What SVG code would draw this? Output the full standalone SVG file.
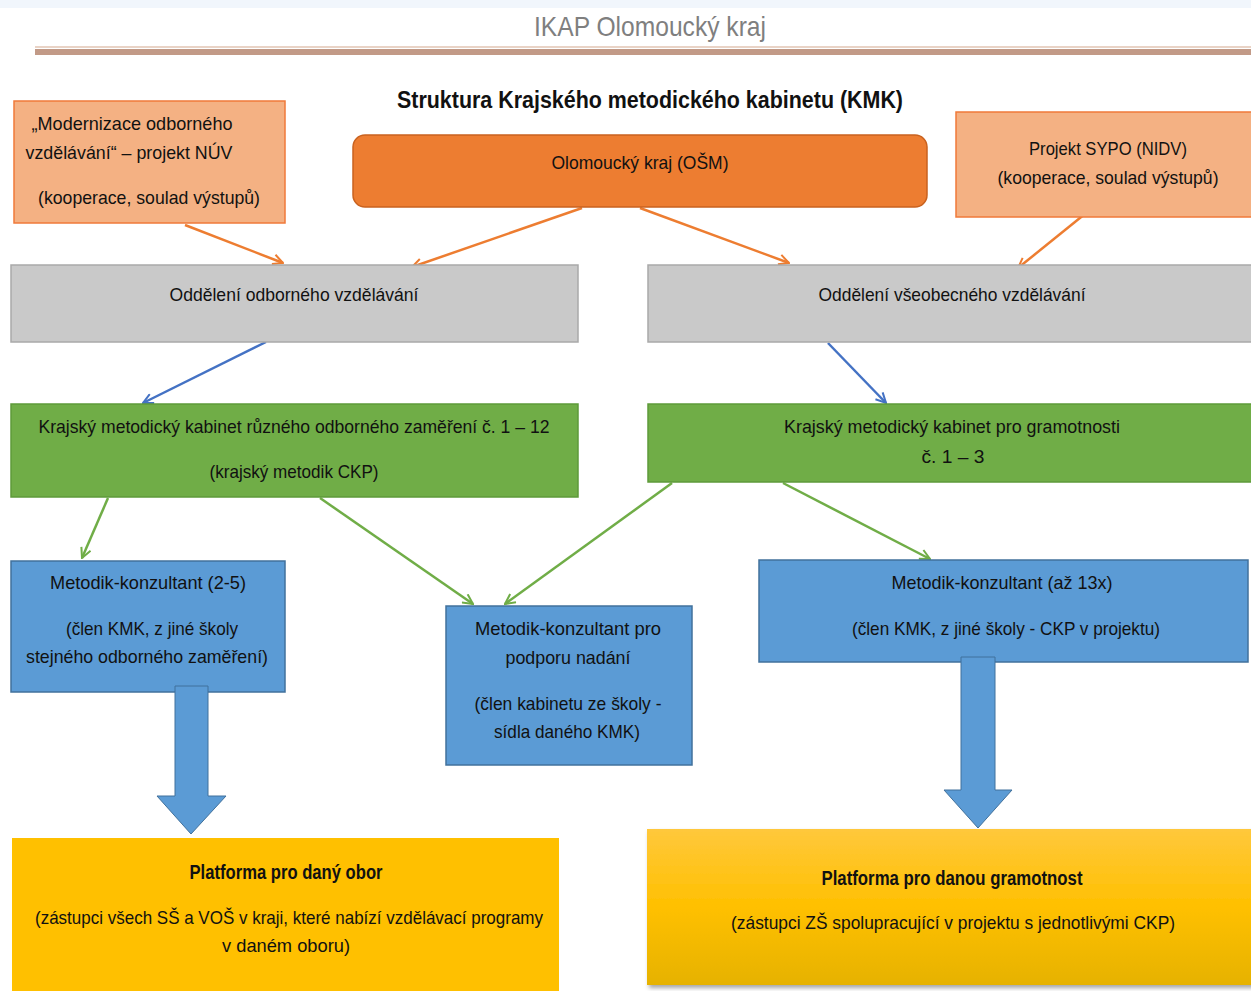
<svg xmlns="http://www.w3.org/2000/svg" width="1251" height="991" viewBox="0 0 1251 991">
<defs>
<style>
text{font-family:"Liberation Sans",Arial,sans-serif;font-size:19px;fill:#111;text-anchor:middle}
.hdr{font-size:28px;fill:#7f7f7f}
.ttl{font-size:23px;font-weight:bold}
.b{font-weight:bold;font-size:20px}
.peach{fill:#f4b183;stroke:#f07a3a;stroke-width:1.5}
.gray{fill:#c9c9c9;stroke:#a9a9a9;stroke-width:1.5}
.green{fill:#70ad47;stroke:#5e9a3a;stroke-width:1.5}
.blue{fill:#5b9bd5;stroke:#41719c;stroke-width:1.5}
.orn{stroke:#ed7d31;stroke-width:2.5;fill:none}
.bln{stroke:#4472c4;stroke-width:2.5;fill:none}
.grn{stroke:#70ad47;stroke-width:2.5;fill:none}
</style>
<marker id="ao" viewBox="0 0 12 12" refX="11" refY="6" markerWidth="12" markerHeight="12" markerUnits="userSpaceOnUse" orient="auto"><path d="M1,1 L11,6 L1,11" fill="none" stroke="#ed7d31" stroke-width="2"/></marker>
<marker id="ab" viewBox="0 0 12 12" refX="11" refY="6" markerWidth="12" markerHeight="12" markerUnits="userSpaceOnUse" orient="auto"><path d="M1,1 L11,6 L1,11" fill="none" stroke="#4472c4" stroke-width="2"/></marker>
<marker id="ag" viewBox="0 0 12 12" refX="11" refY="6" markerWidth="12" markerHeight="12" markerUnits="userSpaceOnUse" orient="auto"><path d="M1,1 L11,6 L1,11" fill="none" stroke="#70ad47" stroke-width="2"/></marker>
<linearGradient id="yg" x1="0" y1="0" x2="0" y2="1"><stop offset="0" stop-color="#ffc83c"/><stop offset="0.5" stop-color="#ffc000"/><stop offset="1" stop-color="#e6b200"/></linearGradient>
<filter id="sh" x="-5%" y="-5%" width="110%" height="115%"><feDropShadow dx="2" dy="3" stdDeviation="2" flood-color="#000" flood-opacity="0.35"/></filter>
</defs>
<rect x="0" y="0" width="1251" height="991" fill="#ffffff"/>
<rect x="0" y="0" width="1251" height="8" fill="#f1f6fc"/>
<g id="header">
<text class="hdr" x="650" y="36" textLength="232" lengthAdjust="spacingAndGlyphs">IKAP Olomoucký kraj</text>
<rect x="35" y="46" width="1216" height="2" fill="#e9d3c6"/>
<rect x="35" y="49" width="1216" height="6" fill="#c29a87"/>
<text class="ttl" x="650" y="108" textLength="506" lengthAdjust="spacingAndGlyphs">Struktura Krajského metodického kabinetu (KMK)</text>
</g>
<g id="connectors">
<line class="orn" x1="185" y1="225" x2="283" y2="263" marker-end="url(#ao)"/>
<line class="orn" x1="582" y1="208" x2="412" y2="267" marker-end="url(#ao)"/>
<line class="orn" x1="640" y1="208" x2="789" y2="263" marker-end="url(#ao)"/>
<line class="orn" x1="1096" y1="205" x2="1018" y2="268" marker-end="url(#ao)"/>
<line class="bln" x1="266" y1="342" x2="143" y2="403" marker-end="url(#ab)"/>
<line class="bln" x1="828" y1="343" x2="886" y2="403" marker-end="url(#ab)"/>
<line class="grn" x1="108" y1="498" x2="82" y2="558" marker-end="url(#ag)"/>
<line class="grn" x1="320" y1="498" x2="473" y2="604" marker-end="url(#ag)"/>
<line class="grn" x1="672" y1="483" x2="505" y2="604" marker-end="url(#ag)"/>
<line class="grn" x1="783" y1="483" x2="930" y2="559" marker-end="url(#ag)"/>
</g>
<g id="nuv">
<rect class="peach" x="14" y="101" width="271" height="122"/>
<text x="132" y="130" textLength="201" lengthAdjust="spacingAndGlyphs">„Modernizace odborného</text>
<text x="129" y="159" textLength="207" lengthAdjust="spacingAndGlyphs">vzdělávání“ – projekt NÚV</text>
<text x="149" y="204" textLength="222" lengthAdjust="spacingAndGlyphs">(kooperace, soulad výstupů)</text>
</g>
<g id="kraj">
<rect x="353" y="135" width="574" height="72" rx="12" fill="#ed7d31" stroke="#c9621f" stroke-width="1.5"/>
<text x="640" y="169" textLength="177" lengthAdjust="spacingAndGlyphs">Olomoucký kraj (OŠM)</text>
</g>
<g id="sypo">
<rect class="peach" x="956" y="112" width="297" height="105"/>
<text x="1108" y="155" textLength="158" lengthAdjust="spacingAndGlyphs">Projekt SYPO (NIDV)</text>
<text x="1108" y="184" textLength="221" lengthAdjust="spacingAndGlyphs">(kooperace, soulad výstupů)</text>
</g>
<g id="odd-odborne">
<rect class="gray" x="11" y="265" width="567" height="77"/>
<text x="294" y="301" textLength="249" lengthAdjust="spacingAndGlyphs">Oddělení odborného vzdělávání</text>
</g>
<g id="odd-vseobecne">
<rect class="gray" x="648" y="265" width="605" height="77"/>
<text x="952" y="301" textLength="267" lengthAdjust="spacingAndGlyphs">Oddělení všeobecného vzdělávání</text>
</g>
<g id="kmk-odborne">
<rect class="green" x="11" y="404" width="567" height="93"/>
<text x="294" y="433" textLength="511" lengthAdjust="spacingAndGlyphs">Krajský metodický kabinet různého odborného zaměření č. 1 – 12</text>
<text x="294" y="478" textLength="169" lengthAdjust="spacingAndGlyphs">(krajský metodik CKP)</text>
</g>
<g id="kmk-gramotnosti">
<rect class="green" x="648" y="404" width="605" height="78"/>
<text x="952" y="433" textLength="336" lengthAdjust="spacingAndGlyphs">Krajský metodický kabinet pro gramotnosti</text>
<text x="953" y="463" textLength="63" lengthAdjust="spacingAndGlyphs">č. 1 – 3</text>
</g>
<g id="mk-2-5">
<rect class="blue" x="11" y="561" width="274" height="131"/>
<text x="148" y="589" textLength="196" lengthAdjust="spacingAndGlyphs">Metodik-konzultant (2-5)</text>
<text x="152" y="635" textLength="172" lengthAdjust="spacingAndGlyphs">(člen KMK, z jiné školy</text>
<text x="147" y="663" textLength="242" lengthAdjust="spacingAndGlyphs">stejného odborného zaměření)</text>
</g>
<g id="mk-nadani">
<rect class="blue" x="446" y="606" width="246" height="159"/>
<text x="568" y="635" textLength="186" lengthAdjust="spacingAndGlyphs">Metodik-konzultant pro</text>
<text x="568" y="664" textLength="125" lengthAdjust="spacingAndGlyphs">podporu nadání</text>
<text x="568" y="710" textLength="187" lengthAdjust="spacingAndGlyphs">(člen kabinetu ze školy -</text>
<text x="567" y="738" textLength="146" lengthAdjust="spacingAndGlyphs">sídla daného KMK)</text>
</g>
<g id="mk-13x">
<rect class="blue" x="759" y="560" width="489" height="102"/>
<text x="1002" y="589" textLength="221" lengthAdjust="spacingAndGlyphs">Metodik-konzultant (až 13x)</text>
<text x="1006" y="635" textLength="308" lengthAdjust="spacingAndGlyphs">(člen KMK, z jiné školy - CKP v projektu)</text>
</g>
<g id="big-arrow-left">
<path d="M175,686 H208 V796 H226 L191,834 L157,796 H175 Z" fill="#5b9bd5" stroke="#41719c" stroke-width="1"/>
</g>
<g id="big-arrow-right">
<path d="M961,657 H995 V790 H1012 L978,828 L944,790 H961 Z" fill="#5b9bd5" stroke="#41719c" stroke-width="1"/>
</g>
<g id="platforma-obor">
<rect x="12" y="838" width="547" height="160" fill="#ffc000"/>
<text class="b" x="286" y="879" textLength="193" lengthAdjust="spacingAndGlyphs">Platforma pro daný obor</text>
<text x="289" y="924" textLength="508" lengthAdjust="spacingAndGlyphs">(zástupci všech SŠ a VOŠ v kraji, které nabízí vzdělávací programy</text>
<text x="286" y="952" textLength="128" lengthAdjust="spacingAndGlyphs">v daném oboru)</text>
</g>
<g id="platforma-gramotnost">
<rect x="647" y="829" width="610" height="156" fill="url(#yg)" filter="url(#sh)"/>
<text class="b" x="952" y="885" textLength="261" lengthAdjust="spacingAndGlyphs">Platforma pro danou gramotnost</text>
<text x="953" y="929" textLength="444" lengthAdjust="spacingAndGlyphs">(zástupci ZŠ spolupracující v projektu s jednotlivými CKP)</text>
</g>
</svg>
